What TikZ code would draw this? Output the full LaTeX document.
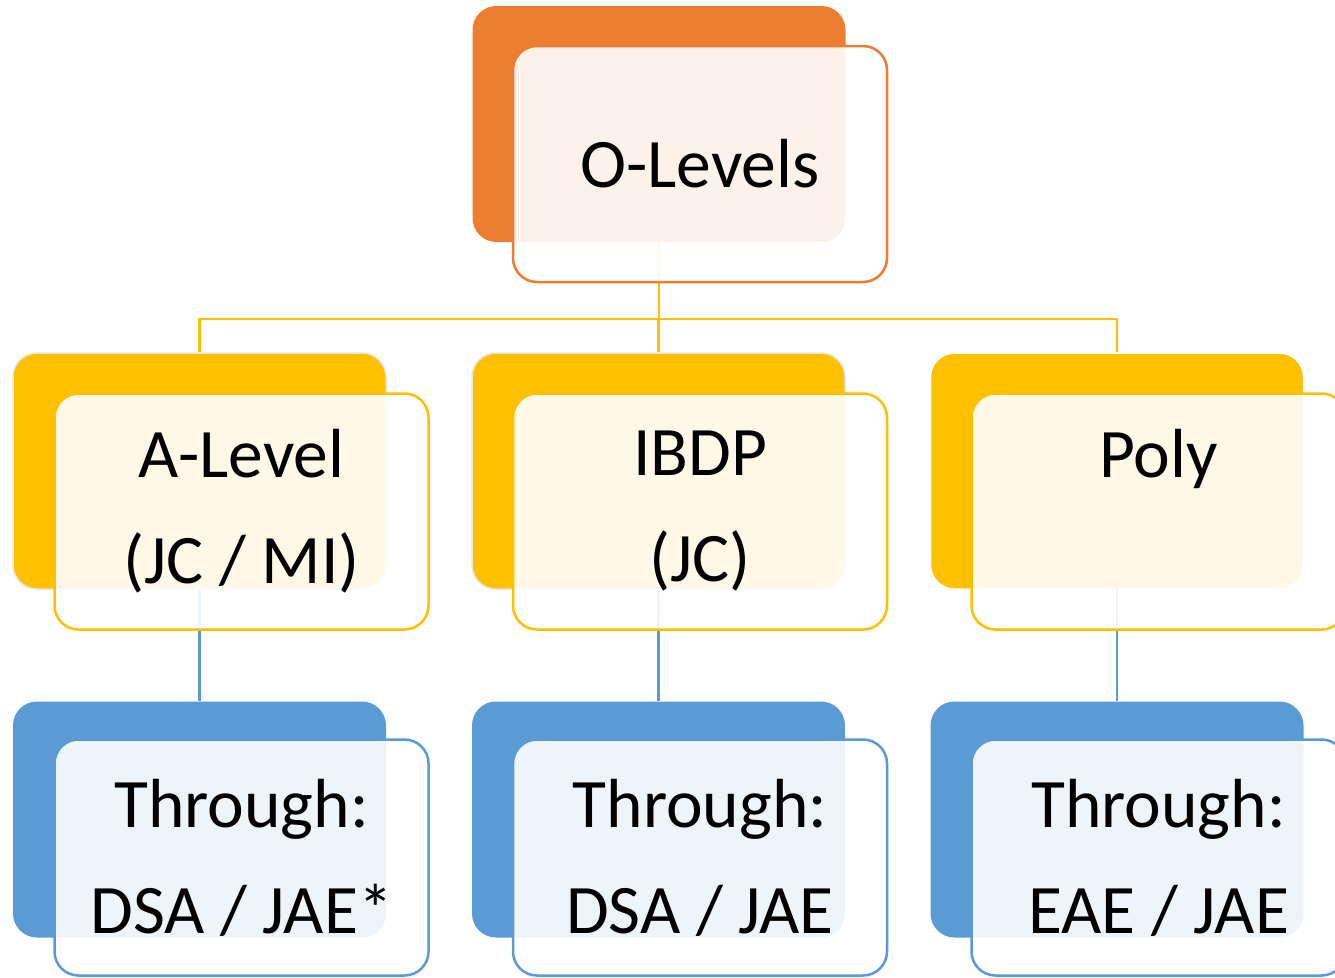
\documentclass[tikz,border=0pt]{standalone}
\usepackage{fontspec}
\setmainfont{Carlito}
\definecolor{orng}{HTML}{ED7D31}
\definecolor{gld}{HTML}{FFC000}
\definecolor{blu}{HTML}{5B9BD5}
\begin{document}
\begin{tikzpicture}[x=1pt,y=-1pt,
  backbox/.style={rectangle, rounded corners=24pt, minimum width=373pt, minimum height=236pt, inner sep=0pt, fill=#1},
  frontbox/.style={rectangle, rounded corners=24pt, minimum width=374pt, minimum height=236pt, inner sep=0pt, draw=#1, line width=2.5pt, fill=white, fill opacity=0.9, text opacity=1, align=center, font=\fontsize{69.5}{106}\selectfont},
  conn/.style={draw=#1, line width=2.5pt}
]
\useasboundingbox (0,0) rectangle (1335,977);
\fill[white] (0,0) rectangle (1335,977);
% back boxes
\node[backbox=orng] (ob) at (659,124) {};
\node[backbox=gld, draw=black!10, line width=1.5pt] (ab) at (199.5,471) {};
\node[backbox=gld, draw=black!10, line width=1.5pt] (ib) at (658.5,471) {};
\node[backbox=gld, draw=white, line width=1.5pt] (pb) at (1117,471) {};
\node[backbox=blu] (atb) at (199.5,819.5) {};
\node[backbox=blu] (itb) at (658.5,819.5) {};
\node[backbox=blu] (ptb) at (1117,819.5) {};
% connectors
\draw[conn=gld] (ob.south) -- ++(0,77) -| (ab.north);
\draw[conn=gld] (ob.south) -- ++(0,77) -| (ib.north);
\draw[conn=gld] (ob.south) -- ++(0,77) -| (pb.north);
\draw[conn=blu] (ab.south) -- (atb.north);
\draw[conn=blu] (ib.south) -- (itb.north);
\draw[conn=blu] (pb.south) -- (ptb.north);
% front boxes
\node[frontbox=orng] (of) at (700,164) {O-Levels};
\node[frontbox=gld] (af) at (241.5,511.5) {A-Level\\(JC / MI)};
\node[frontbox=gld] (if) at (700,511.5) {IBDP\\(JC)};
\node[frontbox=gld] (pf) at (1158.5,511.5) {Poly\\\phantom{(JC)}};
\node[frontbox=blu] (atf) at (241.5,857.5) {Through:\\DSA / JAE*};
\node[frontbox=blu] (itf) at (700,857.5) {Through:\\DSA / JAE};
\node[frontbox=blu] (ptf) at (1158.5,857.5) {Through:\\EAE / JAE};
\end{tikzpicture}
\end{document}
